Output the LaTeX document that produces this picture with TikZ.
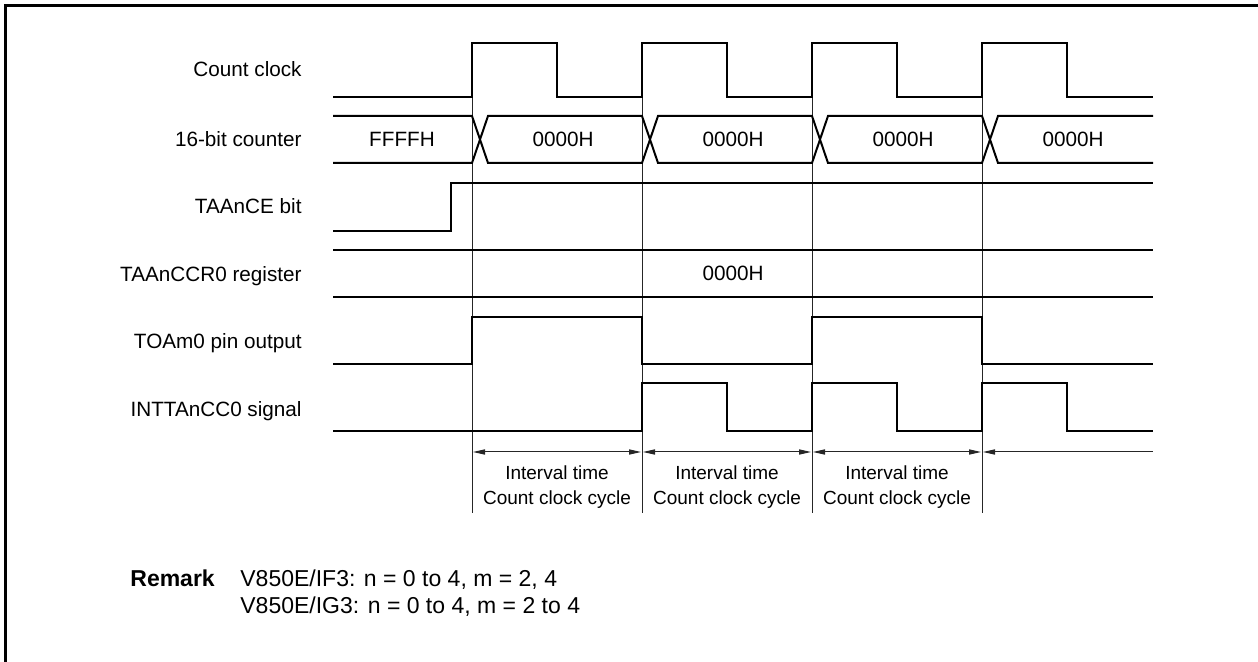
\documentclass[tikz,border=0pt]{standalone}
\usepackage{fontspec}
\setmainfont{Liberation Sans}
\usetikzlibrary{arrows.meta}

\begin{document}
\begin{tikzpicture}[
  x=0.5pt, y=-0.5pt,
  sig/.style={line width=1pt, line join=miter},
  guide/.style={line width=0.5pt, draw=black!85},
  dimarr/.style={{Triangle[length=6pt,width=2.6pt]}-{Triangle[length=6pt,width=2.6pt]},
    line width=0.5pt, draw=black!85, shorten <=0.5pt, shorten >=0.5pt},
  lbl/.style={anchor=base east, inner sep=0pt, font=\fontsize{10.35}{12}\selectfont},
  val/.style={anchor=base, inner sep=0pt, font=\fontsize{10.35}{12}\selectfont},
  note/.style={align=center, inner sep=0pt, font=\fontsize{9.5}{12.5}\selectfont},
  rem/.style={anchor=base west, inner sep=0pt, font=\fontsize{11.5}{14}\selectfont}
]
  \useasboundingbox (0,0) rectangle (1258,662);
  % frame
  \draw[line width=1.5pt] (5,662) -- (5,6) -- (1258,6);

  % signal names
  \node[lbl] (lclk) at (302,77)  {Count clock};
  \node[lbl] (lcnt) at (302,147) {16-bit counter};
  \node[lbl] (lce)  at (302,214) {TAAnCE bit};
  \node[lbl] (lccr) at (302,282) {TAAnCCR0 register};
  \node[lbl] (lto)  at (302,349) {TOAm0 pin output};
  \node[lbl] (lint) at (302,417) {INTTAnCC0 signal};

  % timing guides
  \coordinate (t0) at (472,452);
  \coordinate (t1) at (642,452);
  \coordinate (t2) at (812,452);
  \coordinate (t3) at (982,452);
  \coordinate (tend) at (1153,452);
  \foreach \x in {472,642,812,982}
    \draw[guide] (\x,43) -- (\x,513);

  % count clock
  \draw[sig] (333,97) -- (472,97) -- (472,43) -- (557,43) -- (557,97)
    -- (642,97) -- (642,43) -- (727,43) -- (727,97)
    -- (812,97) -- (812,43) -- (897,43) -- (897,97)
    -- (982,97) -- (982,43) -- (1067,43) -- (1067,97) -- (1153,97);

  % 16-bit counter
  \draw[sig] (333,116) -- (472,116) -- (488,163) -- (642,163) -- (658,116)
    -- (812,116) -- (828,163) -- (982,163) -- (998,116) -- (1153,116);
  \draw[sig] (333,163) -- (472,163) -- (488,116) -- (642,116) -- (658,163)
    -- (812,163) -- (828,116) -- (982,116) -- (998,163) -- (1153,163);
  \node[val] (cnt0) at (402,147)  {FFFFH};
  \node[val] (cnt1) at (563,147)  {0000H};
  \node[val] (cnt2) at (733,147)  {0000H};
  \node[val] (cnt3) at (903,147)  {0000H};
  \node[val] (cnt4) at (1073,147) {0000H};

  % TAAnCE bit
  \draw[sig] (333,231) -- (451,231) -- (451,183) -- (1153,183);

  % TAAnCCR0 register
  \draw[sig] (333,250) -- (1153,250);
  \draw[sig] (333,297) -- (1153,297);
  \node[val] (ccr) at (733,281) {0000H};

  % TOAm0 pin output
  \draw[sig] (333,364) -- (472,364) -- (472,317) -- (642,317) -- (642,364)
    -- (812,364) -- (812,317) -- (982,317) -- (982,364) -- (1153,364);

  % INTTAnCC0 signal
  \draw[sig] (333,431) -- (642,431) -- (642,383) -- (727,383) -- (727,431)
    -- (812,431) -- (812,383) -- (897,383) -- (897,431)
    -- (982,431) -- (982,383) -- (1067,383) -- (1067,431) -- (1153,431);

  % interval arrows
  \draw[dimarr] (t0) -- (t1);
  \draw[dimarr] (t1) -- (t2);
  \draw[dimarr] (t2) -- (t3);
  \draw[guide, {Triangle[length=6pt,width=2.6pt]}-, shorten <=0.5pt] (t3) -- (tend);
  \node[note] (iv1) at (557,487) {Interval time\\Count clock cycle};
  \node[note] (iv2) at (727,487) {Interval time\\Count clock cycle};
  \node[note] (iv3) at (897,487) {Interval time\\Count clock cycle};

  % remark
  \node[rem, font=\fontsize{11.5}{14}\selectfont\bfseries] (rmk) at (130,586) {Remark};
  \node[rem] (rm1) at (240,586) {V850E/IF3: n = 0 to 4, m = 2, 4};
  \node[rem] (rm2) at (240,613) {V850E/IG3: n = 0 to 4, m = 2 to 4};
\end{tikzpicture}
\end{document}
